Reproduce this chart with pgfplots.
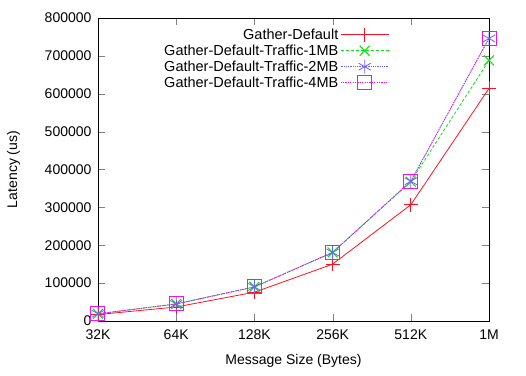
\documentclass[border=0pt]{standalone}
\usepackage{pgfplots}
\pgfplotsset{compat=1.18}
\usepackage{fontspec}
\setmainfont{Liberation Sans}
\definecolor{gred}{HTML}{FF1020}
\definecolor{ggreen}{HTML}{10E010}
\definecolor{gblue}{HTML}{7060FF}
\definecolor{gmag}{HTML}{F010F0}
\begin{document}
\begin{tikzpicture}
\begin{axis}[
  scale only axis,
  width=391pt, height=303pt,
  xmin=0, xmax=5, ymin=0, ymax=800000,
  xtick={0,1,2,3,4,5},
  xticklabels={32K,64K,128K,256K,512K,1M},
  ytick={0,100000,200000,300000,400000,500000,600000,700000,800000},
  scaled y ticks=false,
  yticklabel style={/pgf/number format/fixed,/pgf/number format/1000 sep={}, xshift=-3pt},
  xticklabel style={yshift=-5pt},
  /pgf/number format/assume math mode=true,
  tick align=inside,
  major tick length=7pt,
  xtick pos=both, ytick pos=both,
  font=\fontsize{14}{16}\selectfont,
  xlabel={Message Size (Bytes)},
  ylabel={Latency (us)},
  xlabel style={at={(axis description cs:0.5,-0.13)}, anchor=center},
  ylabel style={at={(axis description cs:-0.216,0.5)}, anchor=center},
  axis line style={black, line width=0.8pt},
  legend plot pos=right,
  legend cell align=right,
  legend style={draw=none, fill=none, at={(0.745,0.972)}, anchor=north east, row sep=0pt,
    inner sep=0pt,
    font=\fontsize{14.5}{16}\selectfont},
  every axis plot/.append style={line width=0.8pt, mark size=7pt},
]
\addplot[color=gred, mark=+, mark options={solid, line width=0.9pt},
  legend image code/.code={\draw[gred, line width=0.8pt, mark=+, mark size=7pt, mark repeat=2, mark phase=2, mark options={solid, line width=0.9pt}] plot coordinates {(0pt,0pt)(24pt,0pt)(48pt,0pt)};}
  ] coordinates {
 (0,17000) (1,37000) (2,76000) (3,150000) (4,307000) (5,614000)};
\addlegendentry{Gather-Default}
\addplot[color=ggreen, dash pattern=on 3pt off 2pt, mark=x, mark options={solid, line width=1.1pt},
  legend image code/.code={\draw[ggreen, line width=0.8pt, dash pattern=on 3pt off 2pt, mark=x, mark size=7pt, mark repeat=2, mark phase=2, mark options={solid, line width=1.1pt}] plot coordinates {(0pt,0pt)(24pt,0pt)(48pt,0pt)};}
  ] coordinates {
 (0,19000) (1,45000) (2,90000) (3,181000) (4,368000) (5,688000)};
\addlegendentry{Gather-Default-Traffic-1MB}
\addplot[color=gblue, densely dotted, mark=asterisk, mark options={solid, line width=0.8pt},
  legend image code/.code={\draw[gblue, line width=0.8pt, densely dotted, mark=asterisk, mark size=7pt, mark repeat=2, mark phase=2, mark options={solid, line width=0.8pt}] plot coordinates {(0pt,0pt)(24pt,0pt)(48pt,0pt)};}
  ] coordinates {
 (0,19000) (1,45000) (2,90000) (3,181000) (4,369000) (5,746000)};
\addlegendentry{Gather-Default-Traffic-2MB}
\addplot[color=gmag, dash pattern=on 1.2pt off 1.2pt, mark=square, mark options={solid, line width=1pt},
  legend image code/.code={\draw[gmag, line width=0.8pt, dash pattern=on 1.2pt off 1.2pt, mark=square, mark size=7pt, mark repeat=2, mark phase=2, mark options={solid, line width=1pt}] plot coordinates {(0pt,0pt)(24pt,0pt)(48pt,0pt)};}
  ] coordinates {
 (0,19000) (1,45000) (2,90000) (3,181000) (4,369000) (5,747000)};
\addlegendentry{Gather-Default-Traffic-4MB}
\end{axis}
\path (current axis.south west) ++(-98pt,-55pt) (current axis.north east) ++(37pt,18pt);
\end{tikzpicture}
\end{document}
